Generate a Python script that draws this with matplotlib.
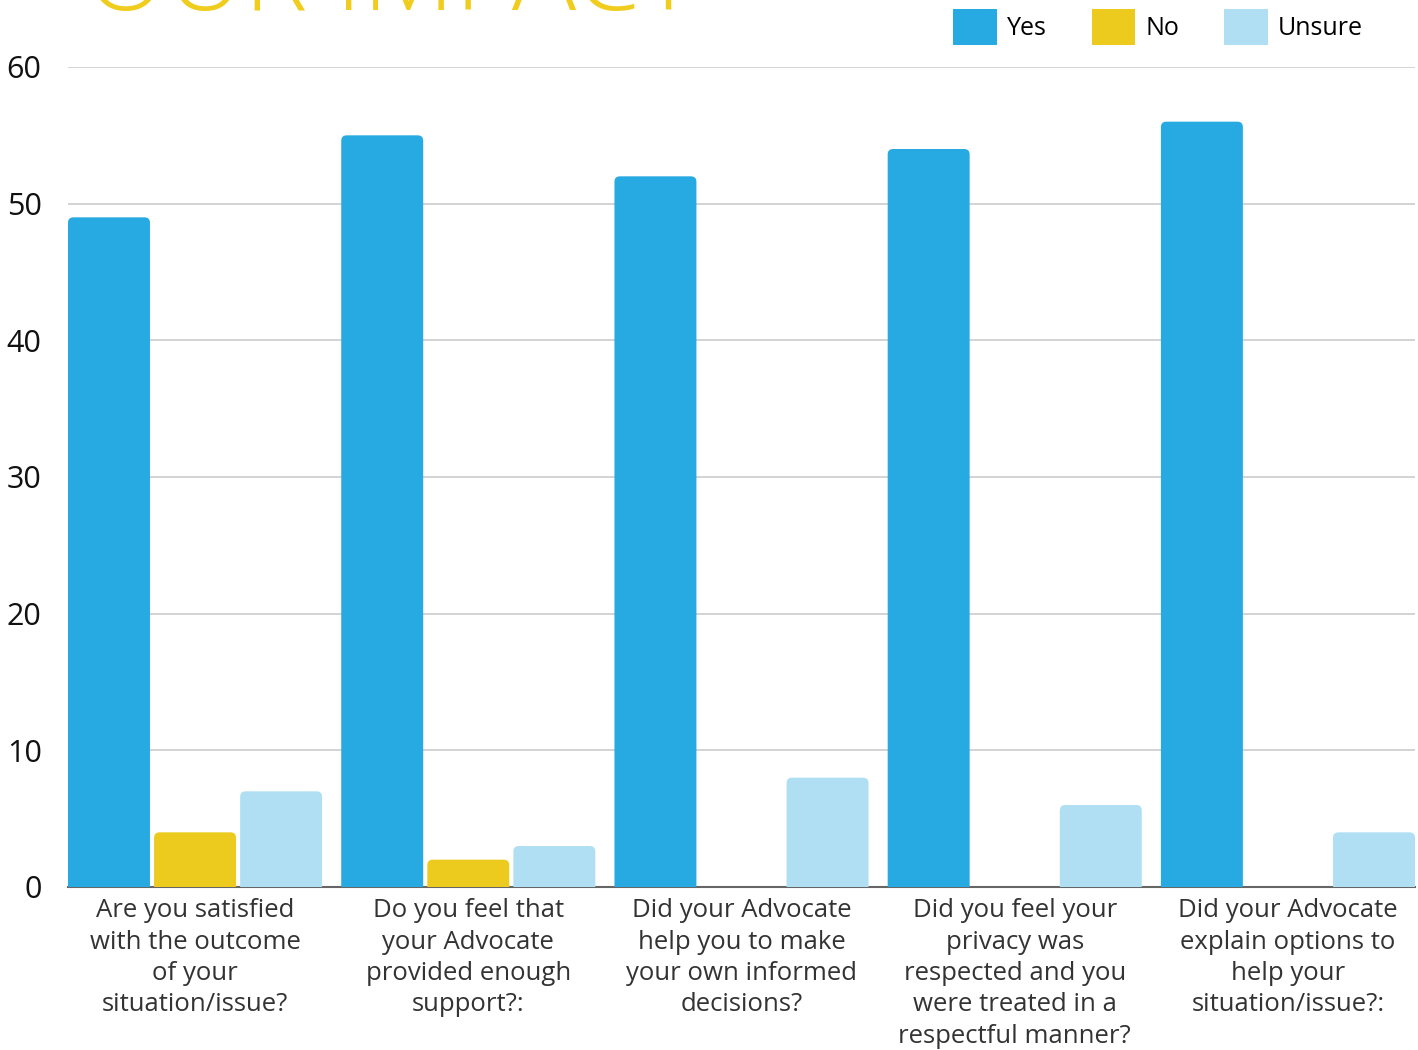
import matplotlib
matplotlib.use('Agg')
import matplotlib.pyplot as plt
import numpy as np
from matplotlib.patches import FancyBboxPatch, Patch

plt.rcParams['font.family'] = ['Open Sans', 'DejaVu Sans']

categories = ['Are you satisfied\nwith the outcome\nof your\nsituation/issue?',
              'Do you feel that\nyour Advocate\nprovided enough\nsupport?:',
              'Did your Advocate\nhelp you to make\nyour own informed\ndecisions?',
              'Did you feel your\nprivacy was\nrespected and you\nwere treated in a\nrespectful manner?',
              'Did your Advocate\nexplain options to\nhelp your\nsituation/issue?:']
yes = [49, 55, 52, 54, 56]
no = [4, 2, 0, 0, 0]
unsure = [7, 3, 8, 6, 4]
series_names = ['Yes', 'No', 'Unsure']
colors = ['#26aae1', '#edcb1e', '#b0dff3']

fig = plt.figure(figsize=(14.18, 10.5), dpi=100, facecolor='white')
ax = fig.add_axes([68/1418, 1-887/1050, (1415-68)/1418, (887-67)/1050])

x = np.arange(len(categories))
width = 0.30
offset = 0.315
for i, (vals, col) in enumerate(zip([yes, no, unsure], colors)):
    bars = ax.bar(x + (i-1)*offset, vals, width, color=col, label=series_names[i], zorder=3)
    # swap plain rectangles for ones with rounded top corners
    for r in bars:
        h = r.get_height()
        r.set_visible(False)
        if h <= 0:
            continue
        p = FancyBboxPatch((r.get_x(), -1), r.get_width(), h + 1,
                           boxstyle='round,pad=0,rounding_size=0.02',
                           mutation_aspect=20, fc=col, ec='none', zorder=3)
        ax.add_patch(p)

ax.set_xlim(-0.465, 4.465)
ax.set_ylim(0, 60)
ax.set_yticks([0, 10, 20, 30, 40, 50, 60])
ax.set_xticks(x)
ax.set_xticklabels(categories, fontsize=18.5, color='#333333', linespacing=1.34)
ax.tick_params(axis='x', length=0, pad=8)
ax.tick_params(axis='y', length=0, pad=19, labelsize=22, labelcolor='#111111')
ax.yaxis.grid(True, color='#cccccc', linewidth=1.2, zorder=0)
ax.set_axisbelow(True)
for s in ['top', 'right', 'left']:
    ax.spines[s].set_visible(False)
ax.spines['bottom'].set_color('#666666')
ax.spines['bottom'].set_linewidth(1.5)
ax.spines['bottom'].set_zorder(2)

handles = [Patch(facecolor=c, edgecolor='none') for c in colors]
fig.legend(handles=handles, labels=series_names, loc='center right',
           bbox_to_anchor=(1363/1418, 1-27/1050), ncol=3, frameon=False,
           fontsize=18, handlelength=1.75, handleheight=1.85,
           handletextpad=0.4, columnspacing=1.8, borderpad=0, borderaxespad=0)

fig.text(85/1418, 1-10/1050, 'OUR IMPACT', fontsize=77, color='#f0cd1d',
         fontweight='light', ha='left', va='baseline')

fig.savefig('out.png', dpi=100, facecolor='white')
